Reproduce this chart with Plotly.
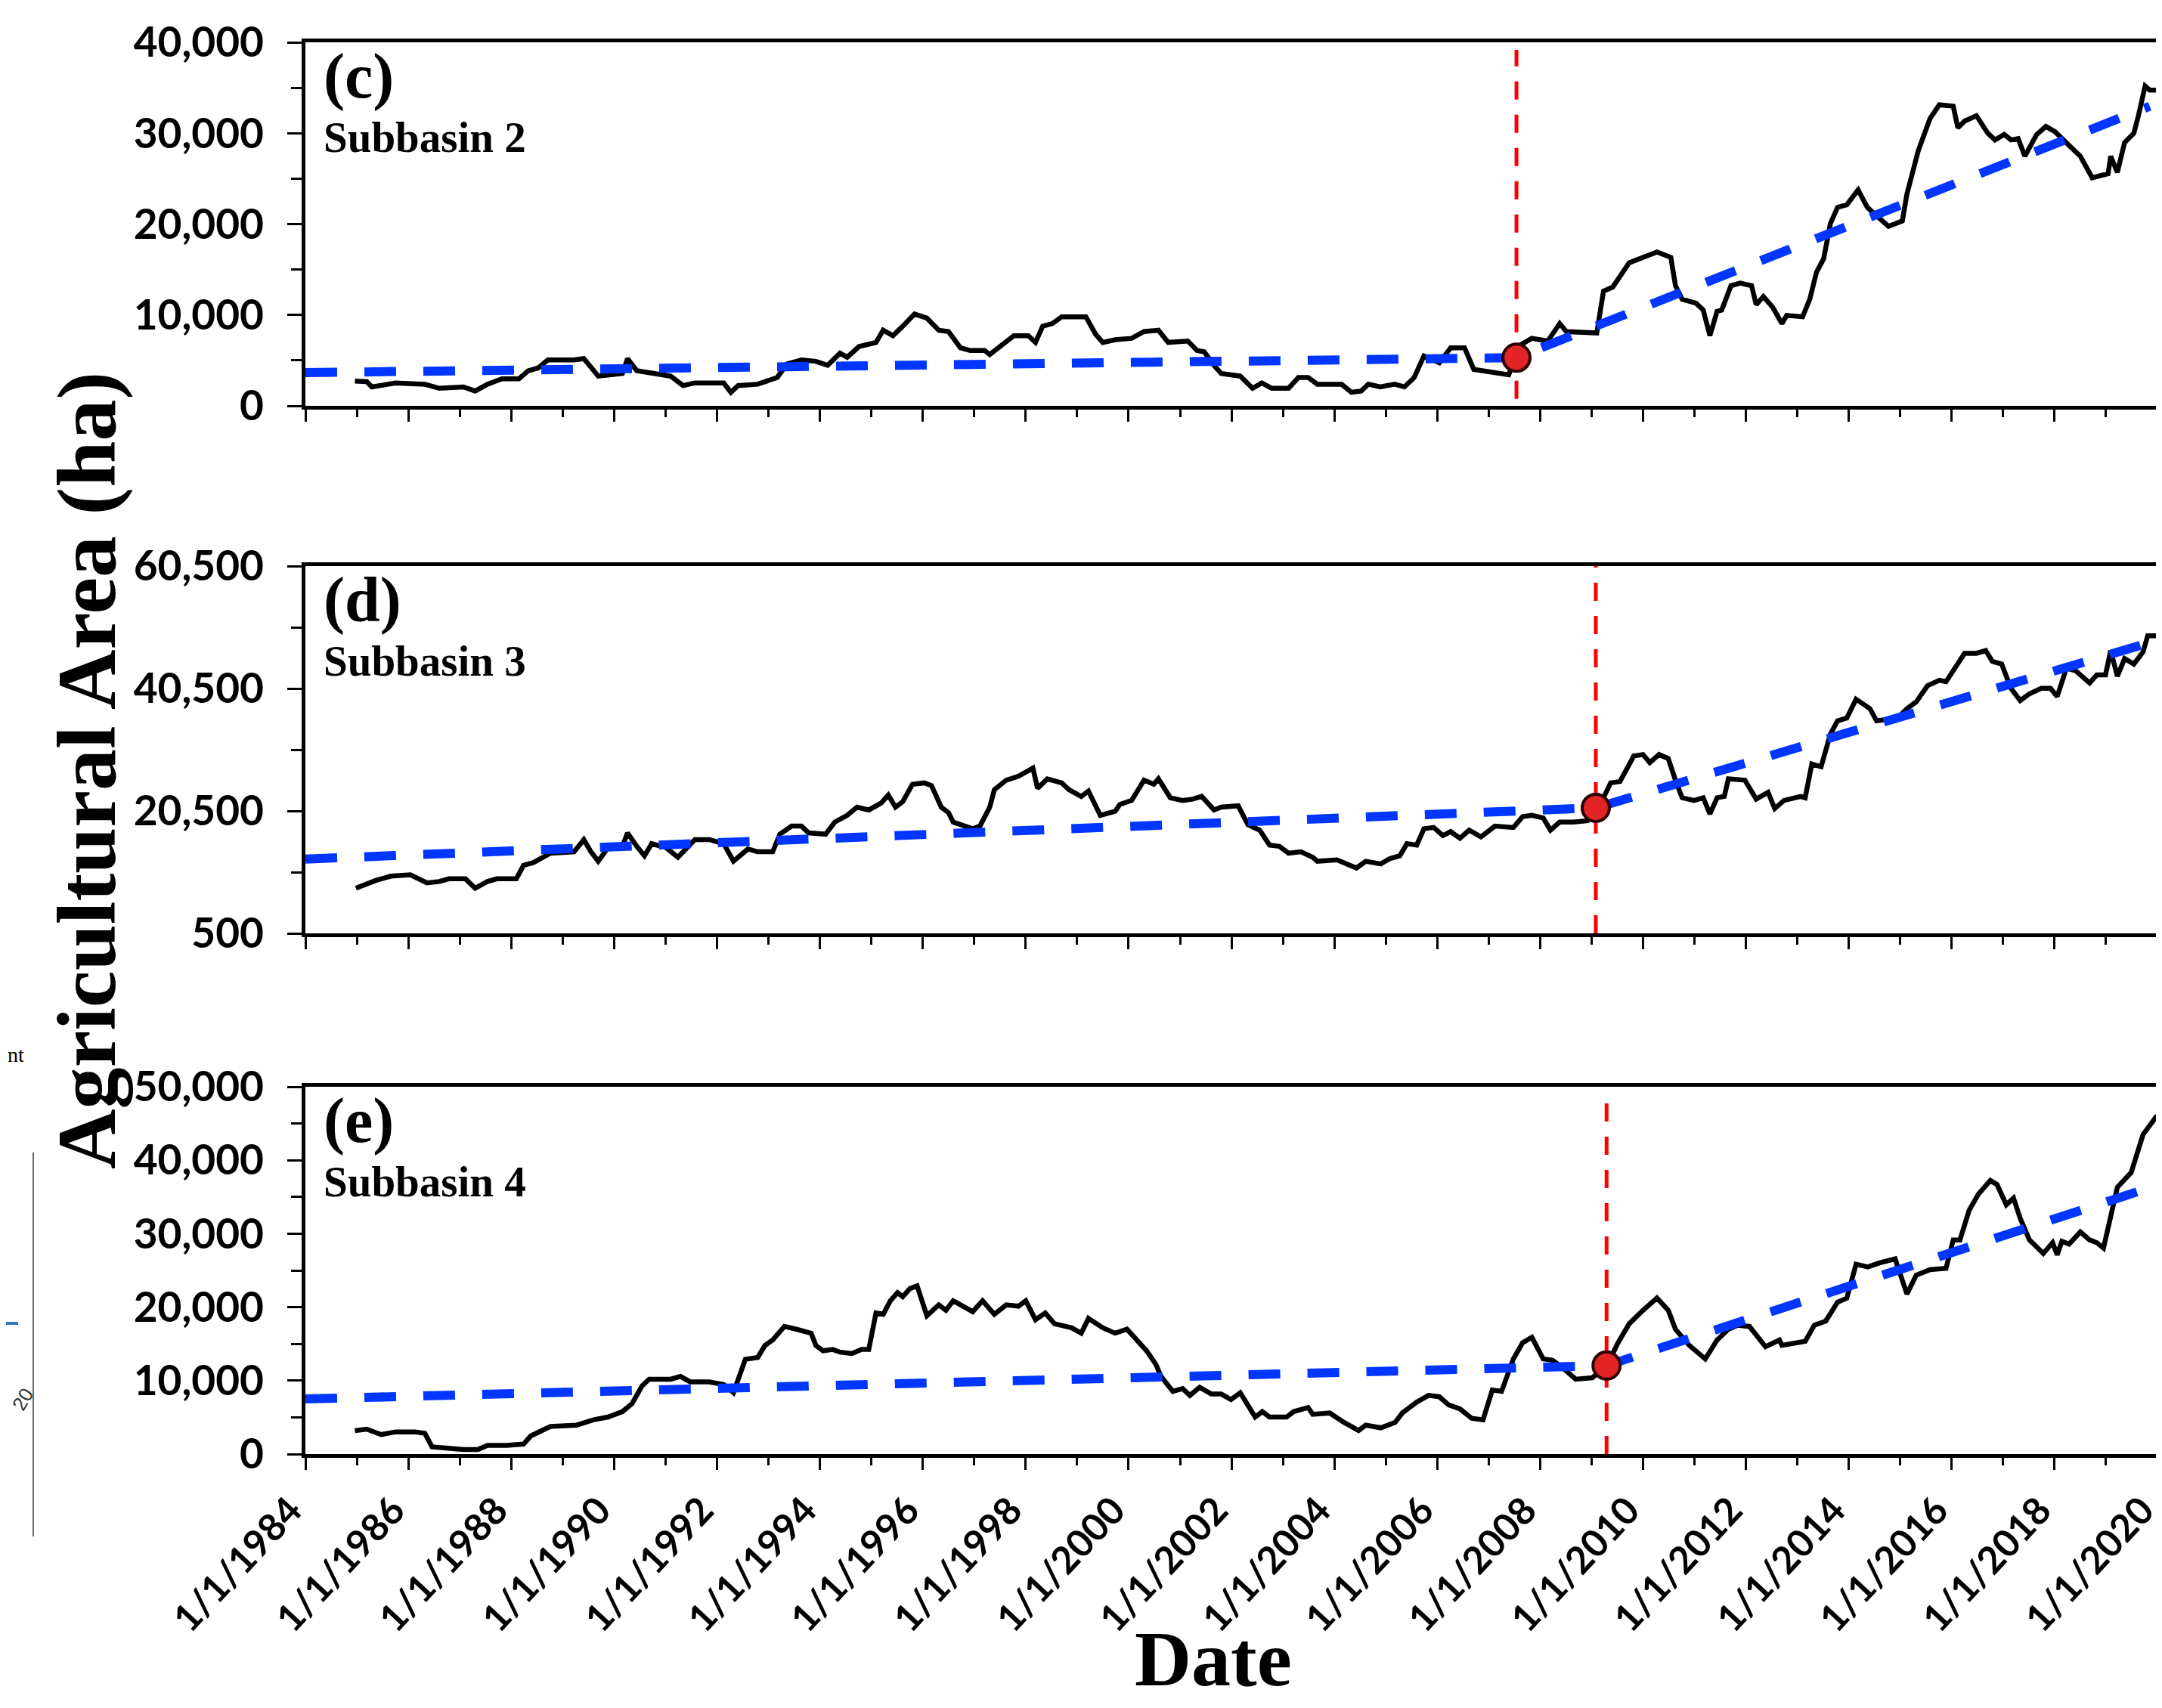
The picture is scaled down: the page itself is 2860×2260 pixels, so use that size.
import plotly.graph_objects as go
from datetime import datetime

# ---------------- data ----------------
TICK_YEARS = [1984, 1986, 1988, 1990, 1992, 1994, 1996, 1998, 2000, 2002,
              2004, 2006, 2008, 2010, 2012, 2014, 2016, 2018, 2020]
TICK_LABELS = ["1/1/%d" % y for y in TICK_YEARS]
MINOR_YEARS = list(range(1984, 2021))

# Subbasin 2 (c)
C_YEARS = [1984.96, 1985.19, 1985.29, 1985.57, 1985.75, 1986.32, 1986.60, 1987.07, 1987.30, 1987.54,
           1987.82, 1988.15, 1988.33, 1988.52, 1988.71, 1989.22, 1989.41, 1989.69, 1989.93, 1990.16,
           1990.26, 1990.44, 1991.10, 1991.34, 1991.57, 1992.13, 1992.27, 1992.41, 1992.79, 1992.98,
           1993.17, 1993.36, 1993.64, 1993.92, 1994.15, 1994.39, 1994.53, 1994.76, 1995.09, 1995.23,
           1995.42, 1995.61, 1995.84, 1996.08, 1996.31, 1996.50, 1996.73, 1996.92, 1997.20, 1997.30,
           1997.48, 1997.77, 1998.05, 1998.19, 1998.33, 1998.52, 1998.70, 1999.17, 1999.36, 1999.50,
           1999.74, 1999.92, 2000.06, 2000.30, 2000.58, 2000.77, 2001.15, 2001.33, 2001.47, 2001.66,
           2001.80, 2002.17, 2002.41, 2002.59, 2002.78, 2003.11, 2003.30, 2003.49, 2003.67, 2004.14,
           2004.33, 2004.52, 2004.66, 2004.89, 2005.17, 2005.36, 2005.55, 2005.74, 2006.04, 2006.26,
           2006.53, 2006.71, 2007.12, 2007.39, 2007.61, 2007.84, 2008.15, 2008.38, 2008.51, 2009.10,
           2009.23, 2009.41, 2009.73, 2010.00, 2010.27, 2010.54, 2010.63, 2010.76, 2011.03, 2011.17,
           2011.30, 2011.44, 2011.53, 2011.71, 2011.89, 2012.11, 2012.20, 2012.34, 2012.52, 2012.70,
           2012.79, 2013.10, 2013.24, 2013.37, 2013.51, 2013.64, 2013.78, 2013.96, 2014.18, 2014.36,
           2014.54, 2014.77, 2015.04, 2015.13, 2015.35, 2015.58, 2015.76, 2016.03, 2016.12, 2016.25,
           2016.48, 2016.70, 2016.84, 2017.02, 2017.15, 2017.29, 2017.42, 2017.65, 2017.83, 2018.01,
           2018.28, 2018.50, 2018.73, 2019.04, 2019.09, 2019.22, 2019.36, 2019.54, 2019.63, 2019.76,
           2019.85, 2019.99]
C_AREA = [2730, 2670, 2080, 2380, 2520, 2380, 1930, 2080, 1630, 2380,
          2970, 2970, 3860, 4160, 5050, 5050, 5200, 3270, 3420, 3560,
          5200, 3860, 3270, 2230, 2520, 2520, 1490, 2230, 2380, 2820,
          3120, 4600, 5050, 4900, 4460, 5790, 5350, 6530, 6980, 8320,
          7720, 8760, 10100, 9650, 8320, 8170, 6390, 6090, 6090, 5640,
          6390, 7720, 7720, 6980, 8760, 9060, 9800, 9800, 7870, 6980,
          7280, 7430, 7430, 8170, 8320, 6980, 7130, 6090, 5940, 4460,
          3560, 3270, 1930, 2520, 1930, 1930, 3120, 3120, 2380, 2380,
          1490, 1630, 2380, 2080, 2380, 2080, 3120, 5490, 4750, 6390,
          6390, 4010, 3710, 3420, 6680, 7430, 7130, 9060, 8170, 8020,
          12620, 13070, 15740, 16340, 16930, 16340, 13220, 11730, 11290, 10540,
          7720, 10400, 10540, 13220, 13510, 13220, 11140, 12030, 10840, 9060,
          9950, 9800, 11730, 14700, 16190, 20050, 21830, 22130, 23760, 21830,
          20940, 19750, 20350, 23320, 28070, 31630, 33120, 32970, 30590, 31330,
          31930, 30000, 29260, 29850, 29260, 29400, 27470, 29850, 30740, 30150,
          28660, 27470, 25100, 25540, 27470, 25690, 28960, 30000, 31930, 35200,
          34750, 34750]
C_TREND_YEARS = [1984.0, 2007.54, 2019.85]
C_TREND_AREA = [3650, 5300, 32970]
C_BREAK_YEAR = 2007.54
C_BREAK_AREA = 5300

# Subbasin 3 (d)
D_YEARS = [1984.98, 1985.19, 1985.38, 1985.66, 1986.04, 1986.36, 1986.60, 1986.79, 1987.11, 1987.30,
           1987.54, 1987.72, 1988.10, 1988.24, 1988.43, 1988.76, 1989.22, 1989.41, 1989.55, 1989.69,
           1989.88, 1990.16, 1990.26, 1990.44, 1990.59, 1990.73, 1991.01, 1991.24, 1991.57, 1991.85,
           1992.13, 1992.32, 1992.60, 1992.79, 1993.08, 1993.22, 1993.45, 1993.64, 1993.78, 1994.11,
           1994.29, 1994.53, 1994.72, 1994.95, 1995.19, 1995.33, 1995.47, 1995.61, 1995.80, 1996.03,
           1996.17, 1996.36, 1996.50, 1996.59, 1996.83, 1996.97, 1997.11, 1997.30, 1997.39, 1997.62,
           1997.86, 1998.00, 1998.14, 1998.23, 1998.42, 1998.70, 1998.84, 1999.08, 1999.22, 1999.45,
           1999.74, 1999.83, 2000.06, 2000.30, 2000.49, 2000.58, 2000.81, 2001.05, 2001.24, 2001.42,
           2001.66, 2001.80, 2002.13, 2002.32, 2002.55, 2002.74, 2002.93, 2003.11, 2003.35, 2003.58,
           2003.67, 2004.05, 2004.43, 2004.61, 2004.90, 2005.08, 2005.27, 2005.41, 2005.60, 2005.74,
           2005.93, 2006.11, 2006.26, 2006.44, 2006.62, 2006.85, 2007.12, 2007.48, 2007.66, 2007.84,
           2008.06, 2008.20, 2008.38, 2008.65, 2008.92, 2009.14, 2009.37, 2009.55, 2009.82, 2010.00,
           2010.13, 2010.31, 2010.49, 2010.63, 2010.76, 2010.99, 2011.17, 2011.30, 2011.44, 2011.58,
           2011.66, 2011.98, 2012.20, 2012.43, 2012.56, 2012.74, 2013.06, 2013.15, 2013.28, 2013.46,
           2013.64, 2013.78, 2013.96, 2014.14, 2014.41, 2014.54, 2014.72, 2014.95, 2015.13, 2015.31,
           2015.53, 2015.76, 2015.89, 2016.03, 2016.25, 2016.48, 2016.66, 2016.79, 2016.97, 2017.15,
           2017.33, 2017.51, 2017.74, 2017.92, 2018.05, 2018.23, 2018.41, 2018.68, 2018.82, 2018.99,
           2019.09, 2019.22, 2019.36, 2019.54, 2019.72, 2019.81, 2019.97]
D_AREA = [7870, 8530, 9190, 9850, 10070, 8750, 8970, 9410, 9410, 7870,
          8970, 9410, 9410, 11620, 12060, 13600, 13820, 15810, 13820, 12280,
          14490, 14710, 16910, 14710, 13160, 15150, 14490, 12940, 15810, 15810,
          15150, 12280, 14270, 13820, 13820, 16690, 18020, 18020, 16910, 16690,
          18680, 19780, 21110, 20660, 21770, 23090, 21110, 21990, 24860, 25080,
          24640, 21110, 20220, 18680, 18020, 17580, 18020, 21110, 23970, 25520,
          26180, 26840, 27500, 24190, 25740, 25080, 23970, 22870, 23750, 19780,
          20440, 21550, 22210, 25520, 24860, 25740, 22650, 22210, 22430, 22870,
          20660, 21110, 21330, 18240, 17350, 14930, 14710, 13600, 13820, 12940,
          12280, 12500, 11180, 12280, 11840, 12720, 13160, 15150, 14930, 17580,
          17800, 16470, 17130, 16030, 17350, 16250, 18020, 17800, 19560, 19780,
          19340, 17350, 18680, 18680, 18900, 21110, 25080, 25300, 29490, 29710,
          28390, 29710, 29050, 25520, 22650, 22210, 22650, 20000, 22650, 22870,
          25740, 25520, 22430, 23530, 20880, 22210, 22870, 22650, 28160, 27720,
          33020, 35220, 35670, 38750, 37210, 35220, 35440, 35670, 37210, 38310,
          40960, 41840, 41620, 43390, 46250, 46250, 46700, 44930, 44490, 40520,
          38530, 39640, 40520, 40520, 39190, 43830, 43390, 41400, 42720, 42720,
          46700, 42500, 45370, 44490, 46470, 49120, 49120]
D_TREND_YEARS = [1984.0, 2009.08, 2019.94]
D_TREND_AREA = [12630, 21000, 48240]
D_BREAK_YEAR = 2009.08
D_BREAK_AREA = 21000

# Subbasin 4 (e)
E_YEARS = [1984.96, 1985.19, 1985.47, 1985.75, 1986.13, 1986.32, 1986.46, 1986.74, 1987.07, 1987.35,
           1987.54, 1987.91, 1988.24, 1988.38, 1988.76, 1989.27, 1989.60, 1989.88, 1990.16, 1990.35,
           1990.54, 1990.68, 1991.10, 1991.29, 1991.48, 1991.85, 1992.13, 1992.32, 1992.55, 1992.79,
           1992.93, 1993.08, 1993.31, 1993.54, 1993.83, 1993.92, 1994.06, 1994.25, 1994.39, 1994.62,
           1994.81, 1994.95, 1995.09, 1995.23, 1995.37, 1995.51, 1995.61, 1995.75, 1995.89, 1996.08,
           1996.31, 1996.45, 1996.59, 1996.97, 1997.16, 1997.39, 1997.62, 1997.86, 1998.00, 1998.19,
           1998.38, 1998.56, 1998.89, 1999.08, 1999.22, 1999.50, 1999.74, 1999.97, 2000.20, 2000.35,
           2000.53, 2000.63, 2000.86, 2001.05, 2001.19, 2001.38, 2001.61, 2001.80, 2001.99, 2002.17,
           2002.46, 2002.60, 2002.74, 2003.07, 2003.21, 2003.49, 2003.58, 2003.91, 2004.19, 2004.47,
           2004.61, 2004.90, 2005.18, 2005.32, 2005.60, 2005.83, 2006.04, 2006.22, 2006.44, 2006.67,
           2006.89, 2007.07, 2007.25, 2007.48, 2007.66, 2007.84, 2008.06, 2008.24, 2008.42, 2008.69,
           2009.01, 2009.30, 2009.50, 2009.73, 2010.00, 2010.27, 2010.49, 2010.63, 2010.90, 2011.21,
           2011.44, 2011.66, 2011.84, 2012.07, 2012.38, 2012.65, 2012.70, 2013.15, 2013.33, 2013.55,
           2013.78, 2013.96, 2014.14, 2014.37, 2014.59, 2014.90, 2015.13, 2015.31, 2015.58, 2015.89,
           2016.03, 2016.16, 2016.34, 2016.52, 2016.75, 2016.88, 2017.06, 2017.20, 2017.33, 2017.51,
           2017.78, 2017.96, 2018.05, 2018.14, 2018.28, 2018.50, 2018.68, 2018.82, 2018.95, 2019.09,
           2019.22, 2019.49, 2019.72, 2019.99]
E_AREA = [3200, 3390, 2650, 3020, 3020, 2830, 990, 810, 630, 630,
          1180, 1180, 1360, 2470, 3750, 3940, 4670, 5040, 5780, 6880,
          9270, 10190, 10190, 10560, 9830, 9830, 9460, 8350, 12900, 13140,
          14790, 15530, 17370, 17000, 16450, 14790, 14060, 14240, 13870, 13690,
          14240, 14240, 19210, 19030, 20870, 21970, 21420, 22520, 22890, 18840,
          20310, 19580, 20870, 19390, 20870, 19030, 20310, 20130, 20870, 18290,
          19210, 17740, 17190, 16450, 18470, 17190, 16450, 17000, 15350, 14060,
          12220, 10560, 8540, 8910, 7990, 9090, 8170, 8170, 7430, 8350,
          5040, 5780, 5040, 5040, 5780, 6330, 5410, 5590, 4310, 3200,
          3940, 3570, 4310, 5590, 7070, 7990, 7800, 6700, 6150, 4860,
          4670, 8720, 8540, 12950, 15160, 15900, 12950, 12770, 11850, 10190,
          10380, 12030, 14980, 17740, 19580, 21230, 19580, 17000, 14790, 12950,
          15530, 17000, 17550, 17370, 14610, 15530, 14790, 15350, 17550, 18110,
          20680, 21230, 25830, 25470, 26020, 26570, 21790, 24360, 25100, 25280,
          29150, 29150, 33190, 35400, 37240, 36690, 33930, 34850, 32090, 29150,
          27310, 28780, 27120, 28960, 28590, 30250, 29150, 28780, 28040, 32460,
          36320, 38350, 43500, 46070]
E_TREND_YEARS = [1984.0, 2009.29, 2020.0]
E_TREND_AREA = [7500, 12050, 36600]
E_BREAK_YEAR = 2009.29
E_BREAK_AREA = 12050

PANEL_TAGS = ["(c)", "(d)", "(e)"]
PANEL_NAMES = ["Subbasin 2", "Subbasin 3", "Subbasin 4"]
Y_RANGES = [[0, 40000], [500, 60500], [0, 50000]]
Y_MAJOR = [[0, 10000, 20000, 30000, 40000],
           [500, 20500, 40500, 60500],
           [0, 10000, 20000, 30000, 40000, 50000]]
Y_MINOR = [[5000, 15000, 25000, 35000],
           [10500, 30500, 50500],
           [5000, 15000, 25000, 35000, 45000]]


def to_date(y):
    yr = int(y)
    start = datetime(yr, 1, 1)
    end = datetime(yr + 1, 1, 1)
    return start + (end - start) * (y - yr)


# ---------------- layout geometry (pixels of the 2860x2260 page) ----------------
OFF = 8                    # page body margin
W, H = 2860 - OFF, 2260 - OFF
X_LEFT, X_RIGHT = 404, 2854
PANELS_PX = [(56, 537), (749, 1235), (1438, 1924)]
RED_SPANS = [(0.019, 0.979), (0.0, 1.0), (0.0, 0.973)]


def fx(px):
    return (px - OFF) / W


def fy(py):
    return 1 - (py - OFF) / H


series = [
    (C_YEARS, C_AREA, C_TREND_YEARS, C_TREND_AREA, C_BREAK_YEAR, C_BREAK_AREA),
    (D_YEARS, D_AREA, D_TREND_YEARS, D_TREND_AREA, D_BREAK_YEAR, D_BREAK_AREA),
    (E_YEARS, E_AREA, E_TREND_YEARS, E_TREND_AREA, E_BREAK_YEAR, E_BREAK_AREA),
]

fig = go.Figure()
shapes = []
annotations = []
YTICKFONT = dict(family="Lato", size=55, color="black", weight="bold")
XTICKFONT = dict(family="Lato", size=50, color="black", weight="bold")
SERIF = "Liberation Serif"

for i, (yrs, area, tyrs, tarea, byr, barea) in enumerate(series):
    xa = "x" if i == 0 else "x%d" % (i + 1)
    ya = "y" if i == 0 else "y%d" % (i + 1)
    fig.add_trace(go.Scatter(
        x=[to_date(v) for v in yrs], y=area, mode="lines",
        line=dict(color="black", width=6.5), xaxis=xa, yaxis=ya, showlegend=False))
    fig.add_trace(go.Scatter(
        x=[to_date(v) for v in tyrs], y=tarea, mode="lines",
        line=dict(color="#0036FF", width=12, dash="42px,36px"),
        xaxis=xa, yaxis=ya, showlegend=False))
    fig.add_trace(go.Scatter(
        x=[to_date(byr)], y=[barea], mode="markers",
        marker=dict(size=36, color="#E32424", line=dict(color="#2a0000", width=4)),
        xaxis=xa, yaxis=ya, showlegend=False))
    y0s, y1s = RED_SPANS[i]
    shapes.append(dict(type="line", xref=xa, yref=ya + " domain",
                       x0=to_date(byr), x1=to_date(byr), y0=y0s, y1=y1s,
                       line=dict(color="#FF0000", width=5, dash="24px,20px"),
                       layer="below"))

    top, bot = PANELS_PX[i]
    xkey = "xaxis" if i == 0 else "xaxis%d" % (i + 1)
    ykey = "yaxis" if i == 0 else "yaxis%d" % (i + 1)
    fig.layout[xkey] = dict(
        domain=[fx(X_LEFT), fx(X_RIGHT)], anchor=ya, type="date",
        range=[datetime(1984, 1, 1), datetime(2020, 1, 1)],
        showline=True, linewidth=5, linecolor="black", mirror=True,
        ticks="outside", ticklen=16, tickwidth=2.5, tickcolor="black",
        tickmode="array", tickvals=[datetime(y, 1, 1) for y in TICK_YEARS],
        ticktext=TICK_LABELS, showticklabels=(i == 2), tickangle=-47,
        ticklabeloverflow="allow", ticklabelshift=-20, ticklabelstandoff=4,
        tickfont=XTICKFONT, showgrid=False, zeroline=False, automargin=False,
        minor=dict(tickmode="array", tickvals=[datetime(y, 1, 1) for y in MINOR_YEARS],
                   ticks="outside", ticklen=10, tickwidth=2.5, tickcolor="black",
                   showgrid=False))
    fig.layout[ykey] = dict(
        domain=[fy(bot), fy(top)], anchor=xa, range=Y_RANGES[i],
        showline=True, linewidth=5, linecolor="black", mirror=True,
        ticks="outside", ticklen=19, tickwidth=2.5, tickcolor="black",
        tickmode="array", tickvals=Y_MAJOR[i], tickformat=",",
        tickfont=YTICKFONT, ticklabelstandoff=20, ticklabeloverflow="allow",
        showgrid=False, zeroline=False, automargin=False,
        minor=dict(tickmode="array", tickvals=Y_MINOR[i], ticks="outside",
                   ticklen=14, tickwidth=2.5, tickcolor="black", showgrid=False))

    annotations.append(dict(text="<b>%s</b>" % PANEL_TAGS[i], xref="paper", yref="paper",
                            x=fx(426), y=fy(top + 45), xanchor="left", yanchor="middle",
                            showarrow=False, font=dict(family=SERIF, size=84, color="black")))
    annotations.append(dict(text="<b>%s</b>" % PANEL_NAMES[i], xref="paper", yref="paper",
                            x=fx(426), y=fy(top + 125), xanchor="left", yanchor="middle",
                            showarrow=False, font=dict(family=SERIF, size=57, color="black")))

# axis titles
annotations.append(dict(text="<b>Agricultural Area (ha)</b>", xref="paper", yref="paper",
                        x=fx(115), y=fy(1020), xanchor="center", yanchor="middle",
                        textangle=-90, showarrow=False,
                        font=dict(family=SERIF, size=110, color="black")))
annotations.append(dict(text="<b>Date</b>", xref="paper", yref="paper",
                        x=fx(1605), y=fy(2194), xanchor="center", yanchor="middle",
                        showarrow=False, borderpad=0,
                        font=dict(family=SERIF, size=104, color="black")))

# cropped fragments of the neighbouring figure at the left edge
annotations.append(dict(text="nt", xref="paper", yref="paper", x=fx(8), y=fy(1395),
                        xanchor="left", yanchor="middle", showarrow=False,
                        font=dict(family=SERIF, size=28, color="black")))
annotations.append(dict(text="20", xref="paper", yref="paper", x=fx(30), y=fy(1852),
                        xanchor="center", yanchor="middle", textangle=-60, showarrow=False,
                        borderpad=0, font=dict(family="Liberation Sans", size=26, color="#333333")))
shapes.append(dict(type="line", xref="paper", yref="paper", x0=fx(44), x1=fx(44),
                   y0=fy(1525), y1=fy(2033), line=dict(color="#666666", width=2)))
shapes.append(dict(type="line", xref="paper", yref="paper", x0=fx(8), x1=fx(24),
                   y0=fy(1751), y1=fy(1751), line=dict(color="#2b7bb9", width=4)))

fig.update_layout(
    width=W, height=H, template="none",
    margin=dict(l=0, r=0, t=0, b=0, autoexpand=False),
    paper_bgcolor="white", plot_bgcolor="white",
    shapes=shapes, annotations=annotations, showlegend=False)

fig.write_html("out.html")
